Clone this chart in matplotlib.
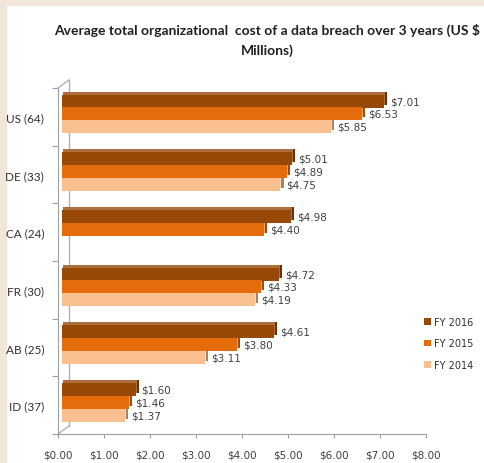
import numpy as np
import matplotlib
matplotlib.use("Agg")
import matplotlib.pyplot as plt
import matplotlib.transforms as mtransforms
from matplotlib.patches import Rectangle
from matplotlib.lines import Line2D

# data
countries = ["US (64)", "DE (33)", "CA (24)", "FR (30)", "AB (25)", "ID (37)"]
fy2016 = [7.01, 5.01, 4.98, 4.72, 4.61, 1.60]
fy2015 = [6.53, 4.89, 4.40, 4.33, 3.80, 1.46]
fy2014 = [5.85, 4.75, np.nan, 4.19, 3.11, 1.37]
series_names = ["FY 2016", "FY 2015", "FY 2014"]
x_ticks = [0, 1, 2, 3, 4, 5, 6, 7, 8]

colors = ["#984807", "#e46c0a", "#fac090"]
side_colors = ["#6b3204", "#a04c07", "#a88462"]
top_colors = ["#ab6e3e", "#f0a060", "#fcd8b8"]

fig = plt.figure(figsize=(4.85, 4.64), dpi=100, facecolor="#f1e6da")
fig.patches.append(Rectangle((7/485, 0), 1, 1 - 7/464, transform=fig.transFigure,
                             facecolor="white", edgecolor="none", zorder=-10))

ax = fig.add_axes([58/485, (464-435)/464, 368/485, 346/464])
ax.set_facecolor("none")

y = np.arange(len(countries))
h = 0.225
offsets = [-0.27, -0.05, 0.175]
front = mtransforms.offset_copy(ax.transData, fig=fig, x=4, y=0, units="dots")
side = mtransforms.offset_copy(ax.transData, fig=fig, x=7, y=3, units="dots")
top = mtransforms.offset_copy(ax.transData, fig=fig, x=5, y=3, units="dots")

for vals, off, c, sc, tc, name in zip([fy2016, fy2015, fy2014], offsets, colors, side_colors,
                                      top_colors, series_names):
    vals = np.array(vals)
    ax.barh(y + off, vals, height=h, color=sc, transform=side, zorder=2)
    ax.barh(y + off, vals, height=h, color=tc, transform=top, zorder=2.5)
    ax.barh(y + off, vals, height=h, color=c, transform=front, zorder=3, label=name)
    for yi, v in zip(y, vals):
        if np.isnan(v):
            continue
        ax.annotate("$%.2f" % v, xy=(v, yi + off), xycoords=front,
                    xytext=(6, 0), textcoords="offset pixels",
                    ha="left", va="center", fontsize=7.5, color="#404040",
                    family="DejaVu Sans", zorder=5)

ax.set_xlim(0, 8)
ax.set_ylim(len(countries) - 0.5, -0.5)
ax.set_xticks(x_ticks)
ax.set_xticklabels(["$%.2f" % t for t in x_ticks], fontsize=7.5, color="#404040", family="DejaVu Sans")
ax.set_yticks(np.arange(-0.5, len(countries), 1.0))
ax.set_yticklabels([])
ax.set_yticks(y, minor=True)
ax.set_yticklabels(countries, minor=True, fontsize=8.5, color="#303030", family="Lato")
ax.tick_params(axis="y", which="minor", length=0, pad=10)
ax.tick_params(axis="y", which="major", length=4, color="#a0a0a0")
ax.tick_params(axis="x", length=3, color="#a0a0a0", pad=8)

for s in ["top", "right"]:
    ax.spines[s].set_visible(False)
for s in ["left", "bottom"]:
    ax.spines[s].set_color("#a0a0a0")

# back wall of the 3d frame
back = mtransforms.offset_copy(ax.transAxes, fig=fig, x=11, y=8, units="dots")
ax.add_line(Line2D([0, 0], [0, 1], transform=back, color="#b0b0b0", lw=1, clip_on=False, zorder=1))
for yy in [0, 1]:
    p0 = ax.transAxes.transform((0, yy))
    p1 = back.transform((0, yy))
    ax.add_line(Line2D([p0[0], p1[0]], [p0[1], p1[1]], transform=None,
                       color="#b0b0b0", lw=1, clip_on=False, zorder=1))

fig.text(267/485, 1 - 30/464, "Average total organizational  cost of a data breach over 3 years (US $",
         ha="center", va="center", fontsize=10, fontweight="bold", family="Lato", color="#202020")
fig.text(267/485, 1 - 51/464, "Millions)",
         ha="center", va="center", fontsize=10, fontweight="bold", family="Lato", color="#202020")

leg = ax.legend(loc="upper left", bbox_to_anchor=(415/485, 1 - 309/464), bbox_transform=fig.transFigure,
                frameon=False, handlelength=0.7, handleheight=0.7, handletextpad=0.4,
                labelspacing=1.2, prop={"family": "DejaVu Sans", "size": 7})
for t in leg.get_texts():
    t.set_color("#303030")

fig.savefig("out.png", dpi=100, facecolor=fig.get_facecolor())
